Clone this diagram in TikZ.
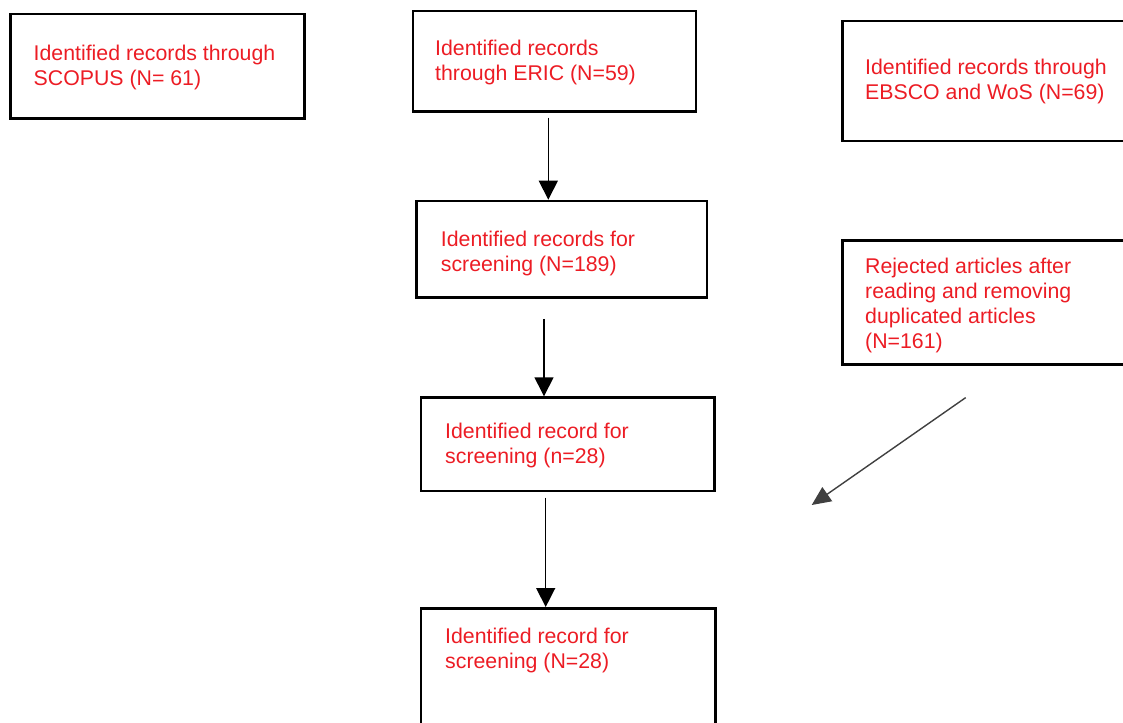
\documentclass[tikz,border=0pt]{standalone}
\usepackage{fontspec}
\setmainfont{Liberation Sans}
\usetikzlibrary{arrows.meta}
\definecolor{txtred}{RGB}{236,28,36}
\tikzset{
  box/.style={draw=black, line width=2.6pt, rectangle, anchor=north west, inner sep=0pt},
  lbl/.style={anchor=base west, align=left, inner sep=0pt, text=txtred,
              font=\fontsize{21.3}{25}\selectfont},
  arr/.style={line width=1.4pt, -{Triangle[length=19pt,width=19pt]}},
  darr/.style={line width=1.4pt, draw=black!75, -{Triangle[length=19pt,width=17pt]}}
}
\begin{document}
\begin{tikzpicture}[x=1pt,y=-1pt]
\useasboundingbox (0,0) rectangle (1123,722);
\clip (0,0) rectangle (1123,722);
% boxes
\node[box, minimum width=294pt, minimum height=104.3pt] (scopus) at (9,12.7) {};
\node[box, minimum width=283pt, minimum height=100.3pt] (eric) at (411.7,9.7) {};
\node[box, minimum width=300pt, minimum height=120pt] (ebsco) at (841.3,19.7) {};
\node[box, minimum width=290.4pt, minimum height=96.6pt] (scr) at (415.3,199.7) {};
\node[box, minimum width=300pt, minimum height=124pt] (rej) at (841.3,239) {};
\node[box, minimum width=293.3pt, minimum height=93.4pt] (nsm) at (419.7,396.3) {};
\node[box, minimum width=294.3pt, minimum height=130pt] (nbig) at (419.7,607) {};
% texts (anchor = baseline of the last line)
\node[lbl] (tscopus) at (33.5,86) {Identified records through\\SCOPUS (N= 61)};
\node[lbl] (teric) at (435,81) {Identified records\\through ERIC (N=59)};
\node[lbl] (tebsco) at (865,100) {Identified records through\\EBSCO and WoS (N=69)};
\node[lbl] (tscr) at (440.7,271.5) {Identified records for\\screening (N=189)};
\node[lbl] (trej) at (865,348) {Rejected articles after\\reading and removing\\duplicated articles\\(N=161)};
\node[lbl] (tnsm) at (445,463.5) {Identified record for\\screening (n=28)};
\node[lbl] (tnbig) at (445,668.3) {Identified record for\\screening (N=28)};
% arrows
\draw[arr] ([xshift=136.6pt,yshift=-5pt]eric.south west) -- ([xshift=133pt]scr.north west);
\draw[arr] ([xshift=128.7pt,yshift=-20pt]scr.south west) -- ([xshift=124.3pt]nsm.north west);
\draw[arr] ([xshift=126pt,yshift=-5.3pt]nsm.south west) -- ([xshift=126pt]nbig.north west);
\coordinate (dtip) at (811.7,505);
\draw[darr] ([xshift=124.4pt,yshift=-32pt]rej.south west) -- (dtip);
\end{tikzpicture}
\end{document}
